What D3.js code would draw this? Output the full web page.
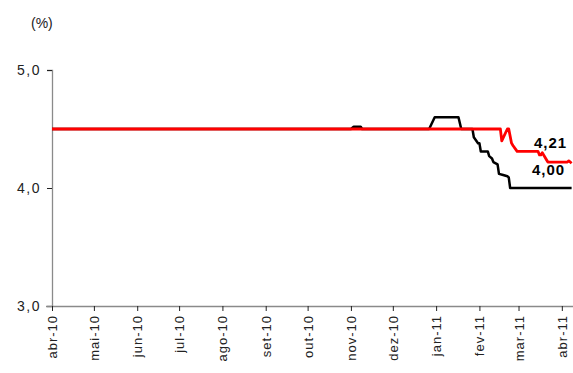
<!DOCTYPE html>
<html>
<head>
<meta charset="utf-8">
<script src="https://cdn.jsdelivr.net/npm/d3@7/dist/d3.min.js"></script>
<style>
  html, body { margin: 0; padding: 0; background: #fff; }
  svg { display: block; font-family: Arial, "Liberation Sans", sans-serif; }
</style>
</head>
<body>
<svg id="chart" width="573" height="373"></svg>
<script>
// Month tick labels along the time axis
const monthLabels = ["abr-10","mai-10","jun-10","jul-10","ago-10","set-10","out-10",
                     "nov-10","dez-10","jan-11","fev-11","mar-11","abr-11"];
const yTicks = [3, 4, 5];

// Black series (dates / values, %)
const blackDates = ["2010-04-01","2010-11-01","2010-11-03","2010-11-08","2010-11-09",
  "2010-12-27","2010-12-31","2011-01-17","2011-01-19","2011-01-27","2011-01-28",
  "2011-01-31","2011-02-01","2011-02-02","2011-02-07","2011-02-08","2011-02-10",
  "2011-02-11","2011-02-14","2011-02-15","2011-02-18","2011-02-21","2011-02-22",
  "2011-02-23","2011-04-08"];
const blackValues = [4.50,4.50,4.52,4.52,4.50,
  4.50,4.60,4.60,4.50,4.50,4.43,
  4.38,4.38,4.31,4.31,4.27,4.25,
  4.22,4.20,4.12,4.11,4.10,4.09,
  4.00,4.00];

// Red series (dates / values, %)
const redDates = ["2010-04-01","2011-02-16","2011-02-17","2011-02-21","2011-02-22",
  "2011-02-24","2011-02-25","2011-02-28","2011-03-15","2011-03-16","2011-03-17",
  "2011-03-18","2011-03-21","2011-03-22","2011-04-05","2011-04-06","2011-04-07",
  "2011-04-08"];
const redValues = [4.50,4.50,4.40,4.50,4.50,
  4.38,4.36,4.31,4.31,4.28,4.28,
  4.30,4.24,4.22,4.22,4.23,4.22,
  4.21];

const parse = d3.timeParse("%Y-%m-%d");
const fmt = d3.format(".2f");
const comma = s => s.replace(".", ",");

const svg = d3.select("#chart");

const x = d3.scaleTime()
  .domain([parse("2010-04-01"), parse("2011-04-09")])
  .range([52, 573]);
const y = d3.scaleLinear().domain([3, 5]).range([306, 70]);

// Y axis
const yAxis = svg.append("g").attr("transform", "translate(52,0)")
  .call(d3.axisLeft(y).tickValues(yTicks).tickSize(5).tickPadding(6)
    .tickFormat(d => d3.format(".1f")(d).replace(".", ",")));
yAxis.select(".domain").attr("stroke", "#8a8a8a").attr("stroke-width", 1.3);
yAxis.selectAll(".tick line").attr("stroke", "#222");
yAxis.selectAll(".tick text")
  .attr("font-size", 14).attr("fill", "#222")
  .style("letter-spacing", "1.5px")
  .attr("font-family", "Arial, 'Liberation Sans', sans-serif");

// X axis with monthly ticks
const monthTicks = d3.timeMonth.range(parse("2010-04-01"), parse("2011-04-02"));
const xAxis = svg.append("g").attr("transform", "translate(0,306)")
  .call(d3.axisBottom(x).tickValues(monthTicks).tickSize(5).tickSizeOuter(0)
    .tickFormat((d, i) => monthLabels[i]));
xAxis.select(".domain").attr("stroke", "#8a8a8a").attr("stroke-width", 1.3)
  .attr("d", "M46,0.5H573");
xAxis.selectAll(".tick line").attr("stroke", "#222");
xAxis.selectAll(".tick text")
  .attr("font-size", 13).attr("fill", "#222")
  .attr("font-family", "Arial, 'Liberation Sans', sans-serif")
  .style("letter-spacing", "1px")
  .attr("text-anchor", "end")
  .attr("transform", "rotate(-90)")
  .attr("x", -9).attr("y", 0).attr("dy", "0.35em");

// Unit label
svg.append("text").attr("x", 31).attr("y", 28)
  .attr("font-size", 14).attr("fill", "#222").text("(%)");

// Series lines
const line = d3.line().x(d => x(d.date)).y(d => y(d.value));
function series(dates, values) {
  return dates.map((d, i) => ({ date: parse(d), value: values[i] }));
}
const black = series(blackDates, blackValues);
const red = series(redDates, redValues);

svg.append("path").datum(black)
  .attr("fill", "none").attr("stroke", "#000").attr("stroke-width", 2.5)
  .attr("stroke-linejoin", "round").attr("d", line);
svg.append("path").datum(red)
  .attr("fill", "none").attr("stroke", "#ff0000").attr("stroke-width", 2.8)
  .attr("stroke-linejoin", "round").attr("d", line);

// End-value labels
const lastRed = red[red.length - 1];
const lastBlack = black[black.length - 1];
svg.append("text")
  .attr("x", x(lastRed.date) - 21).attr("y", y(lastRed.value) - 15)
  .attr("text-anchor", "middle").attr("font-size", 15).attr("font-weight", "bold")
  .style("letter-spacing", "1px")
  .text(comma(fmt(lastRed.value)));
svg.append("text")
  .attr("x", x(lastBlack.date) - 23).attr("y", y(lastBlack.value) - 13)
  .attr("text-anchor", "middle").attr("font-size", 15).attr("font-weight", "bold")
  .style("letter-spacing", "1px")
  .text(comma(fmt(lastBlack.value)));
</script>
</body>
</html>
